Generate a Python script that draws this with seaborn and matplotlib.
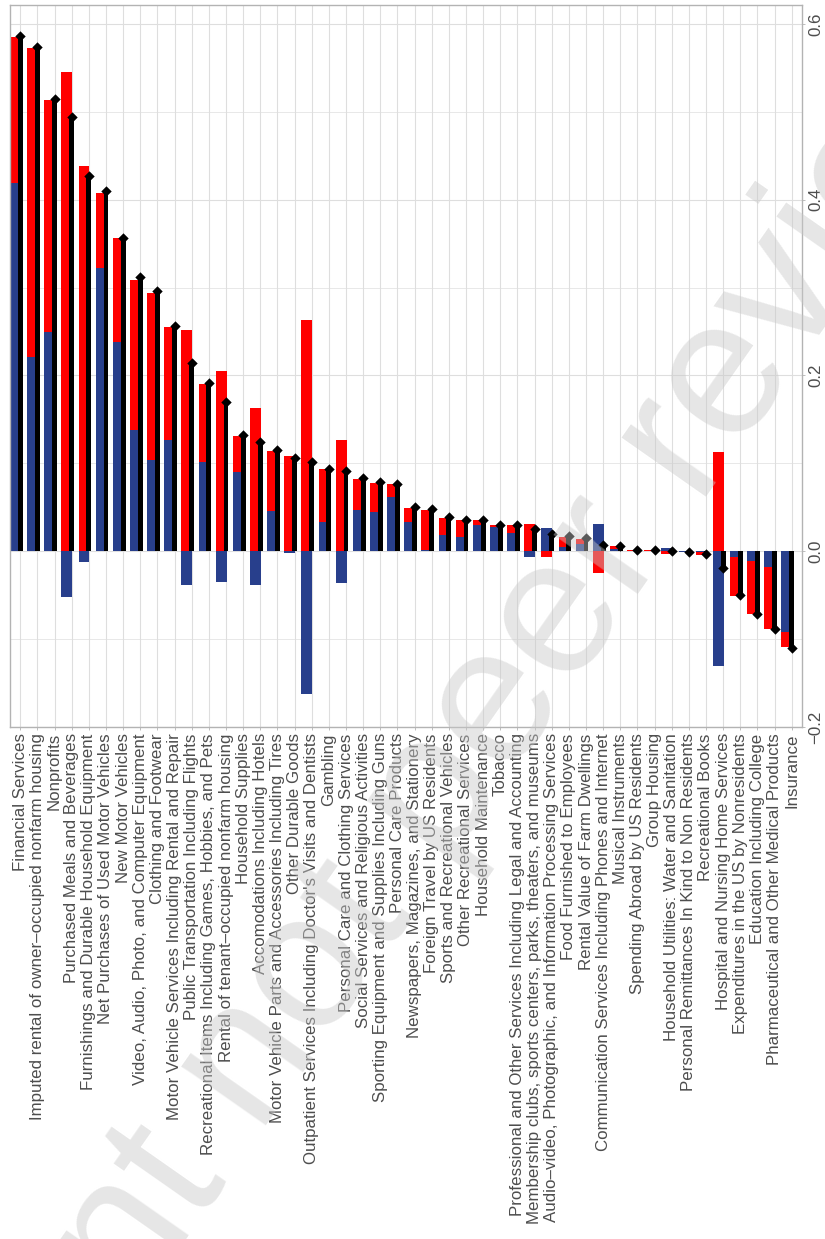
import numpy as np
import pandas as pd
import matplotlib
matplotlib.use("Agg")
import matplotlib.pyplot as plt
import seaborn as sns

# ---- data (sorted by total) ----
categories = [
    "Financial Services",
    "Imputed rental of owner\u2013occupied nonfarm housing",
    "Nonprofits",
    "Purchased Meals and Beverages",
    "Furnishings and Durable Household Equipment",
    "Net Purchases of Used Motor Vehicles",
    "New Motor Vehicles",
    "Video, Audio, Photo, and Computer Equipment",
    "Clothing and Footwear",
    "Motor Vehicle Services Including Rental and Repair",
    "Public Transportation Including Flights",
    "Recreational Items Including Games, Hobbies, and Pets",
    "Rental of tenant\u2013occupied nonfarm housing",
    "Household Supplies",
    "Accomodations Including Hotels",
    "Motor Vehicle Parts and Accessories Including Tires",
    "Other Durable Goods",
    "Outpatient Services Including Doctor's Visits and Dentists",
    "Gambling",
    "Personal Care and Clothing Services",
    "Social Services and Religious Activities",
    "Sporting Equipment and Supplies Including Guns",
    "Personal Care Products",
    "Newspapers, Magazines, and Stationery",
    "Foreign Travel by US Residents",
    "Sports and Recreational Vehicles",
    "Other Recreational Services",
    "Household Maintenance",
    "Tobacco",
    "Professional and Other Services Including Legal and Accounting",
    "Membership clubs, sports centers, parks, theaters, and museums",
    "Audio\u2013video, Photographic, and Information Processing Services",
    "Food Furnished to Employees",
    "Rental Value of Farm Dwellings",
    "Communication Services Including Phones and Internet",
    "Musical Instruments",
    "Spending Abroad by US Residents",
    "Group Housing",
    "Household Utilities: Water and Sanitation",
    "Personal Remittances In Kind to Non Residents",
    "Recreational Books",
    "Hospital and Nursing Home Services",
    "Expenditures in the US by Nonresidents",
    "Education Including College",
    "Pharmaceutical and Other Medical Products",
    "Insurance",
]
blue_part = [0.419, 0.221, 0.250, -0.052, -0.012, 0.322, 0.238, 0.138, 0.104, 0.127,
             -0.038, 0.102, -0.035, 0.090, -0.038, 0.046, -0.002, -0.163, 0.033, -0.036,
             0.047, 0.045, 0.062, 0.0335, 0.0015, 0.0185, 0.016, 0.0295, 0.0276, 0.0207,
             -0.0065, 0.0264, 0.0048, 0.0086, 0.031, 0.0026, 0.0008, 0.0005, 0.004, -0.0006,
             -0.0012, -0.131, -0.0065, -0.011, -0.018, -0.0915]
red_part = [0.166, 0.352, 0.264, 0.545, 0.438, 0.086, 0.118, 0.171, 0.190, 0.128,
            0.252, 0.088, 0.205, 0.041, 0.163, 0.068, 0.108, 0.263, 0.061, 0.127,
            0.035, 0.033, 0.014, 0.016, 0.046, 0.0195, 0.0195, 0.006, 0.0022, 0.009,
            0.031, -0.0065, 0.0114, 0.0054, -0.0244, 0.0034, 0.0007, 0.0005, -0.003, -0.0006,
            -0.0028, 0.113, -0.044, -0.060, -0.071, -0.018]
total = [0.586, 0.574, 0.515, 0.494, 0.427, 0.410, 0.357, 0.312, 0.296, 0.256,
         0.214, 0.192, 0.170, 0.132, 0.124, 0.115, 0.106, 0.101, 0.094, 0.091,
         0.083, 0.079, 0.077, 0.050, 0.048, 0.039, 0.036, 0.035, 0.030, 0.030,
         0.025, 0.020, 0.0173, 0.015, 0.0075, 0.006, 0.001, 0.001, 0.0005, -0.0012,
         -0.0035, -0.019, -0.050, -0.071, -0.089, -0.110]

BLUE, RED = "#283f8c", "#ff0000"
GRID, BORDER, TXT = "#dedede", "#b3b3b3", "#4d4d4d"

sns.set_theme(style="white")
plt.rcParams["font.family"] = ["Liberation Sans", "DejaVu Sans"]

pos = np.arange(len(categories))
blue = np.array(blue_part)
red = np.array(red_part)
# red stacks on blue when same sign, otherwise starts from zero
red_base = np.where(np.sign(red) == np.sign(blue), blue, 0.0)
df = pd.DataFrame({"pos": pos, "stack_x": pos - 0.285, "blue": blue,
                   "red": red, "red_base": red_base, "total": total})

W, H = 825, 1239
fig = plt.figure(figsize=(W / 100, H / 100), dpi=100)
ax = fig.add_axes([10 / W, 1 - 727 / H, 792 / W, 722 / H])

sns.barplot(data=df, x="stack_x", y="blue", native_scale=True, width=0.63,
            color=BLUE, saturation=1, errorbar=None, linewidth=0, zorder=2, ax=ax)
sns.barplot(data=df, x="stack_x", y="red", native_scale=True, width=0.63,
            color=RED, saturation=1, errorbar=None, linewidth=0, zorder=2,
            bottom=df["red_base"].values, ax=ax)
sns.barplot(data=df, x="pos", y="total", native_scale=True, width=0.29,
            color="black", saturation=1, errorbar=None, linewidth=0, zorder=3, ax=ax)
sns.scatterplot(data=df, x="pos", y="total", marker="D", s=28, color="black",
                linewidth=0, zorder=4, ax=ax, legend=False)

ax.set_xlim(-0.6, len(categories) - 0.4)
ax.set_ylim(-0.2, 0.6216)
ax.set_xticks(pos)
ax.set_xticklabels(categories, rotation=90)
ax.set_yticks([-0.2, 0.0, 0.2, 0.4, 0.6])
ax.set_yticklabels(["\u22120.2", "0.0", "0.2", "0.4", "0.6"], rotation=90, va="center")
ax.set_yticks([-0.1, 0.1, 0.3, 0.5], minor=True)
ax.yaxis.tick_right()
ax.set_xlabel("")
ax.set_ylabel("")

ax.grid(True, which="major", axis="both", color=GRID, linewidth=0.8, zorder=0)
ax.grid(True, which="minor", axis="y", color=GRID, linewidth=0.5, zorder=0)
ax.set_axisbelow(True)
for sp in ax.spines.values():
    sp.set_visible(True)
    sp.set_color(BORDER)
    sp.set_linewidth(1.0)
ax.tick_params(axis="x", which="major", bottom=True, length=2.5, width=0.6,
               color=BORDER, labelsize=12.2, labelcolor=TXT, pad=2)
ax.tick_params(axis="y", which="major", right=True, left=False, length=2.5, width=0.6,
               color=BORDER, labelsize=12.2, labelcolor=TXT, pad=2)
ax.tick_params(axis="y", which="minor", right=False, left=False, length=0)

# watermark
fig.text(450 / W, 1 - 775 / H, "Preprint not peer reviewed", rotation=55,
         fontsize=140, color="#c8c8c8", alpha=0.45, ha="center", va="center",
         rotation_mode="anchor", zorder=10)

fig.savefig("out.png", dpi=100)
